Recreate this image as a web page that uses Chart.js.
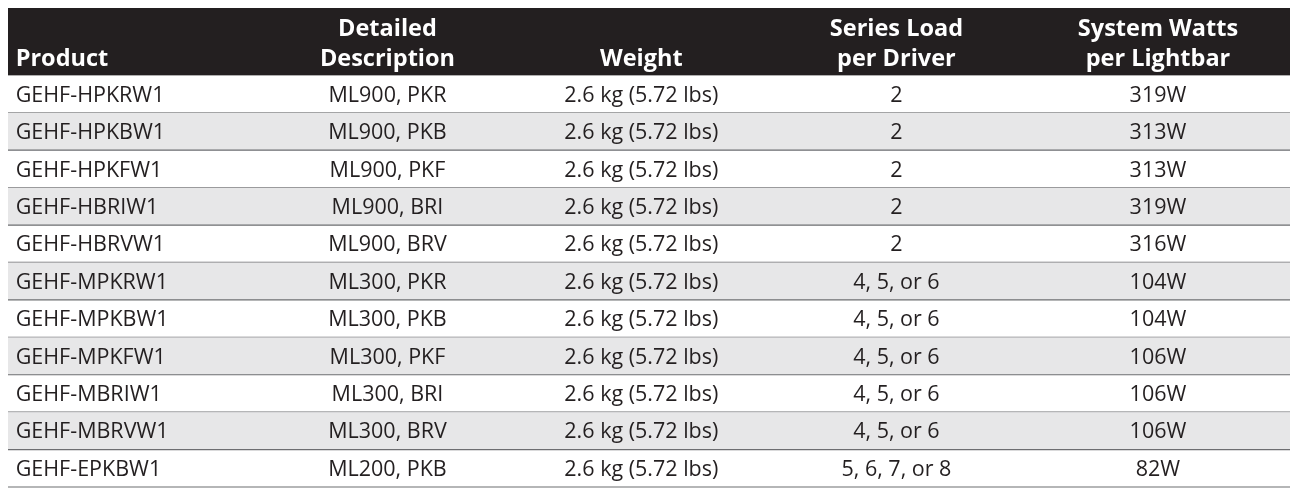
<!DOCTYPE html>
<html><head><meta charset="utf-8">
<script src="https://cdn.jsdelivr.net/npm/chart.js@4/dist/chart.umd.min.js"></script>
<style>html,body{margin:0;background:#fff}#w{width:1296px;height:492px}</style>
</head><body><div id="w"><canvas id="c"></canvas></div>
<script>
const headers = [["Product"],["Detailed","Description"],["Weight"],["Series Load","per Driver"],["System Watts","per Lightbar"]];
const products = ["GEHF-HPKRW1","GEHF-HPKBW1","GEHF-HPKFW1","GEHF-HBRIW1","GEHF-HBRVW1","GEHF-MPKRW1","GEHF-MPKBW1","GEHF-MPKFW1","GEHF-MBRIW1","GEHF-MBRVW1","GEHF-EPKBW1"];
const descriptions = ["ML900, PKR","ML900, PKB","ML900, PKF","ML900, BRI","ML900, BRV","ML300, PKR","ML300, PKB","ML300, PKF","ML300, BRI","ML300, BRV","ML200, PKB"];
const weights = Array(11).fill("2.6 kg (5.72 lbs)");
const seriesLoad = ["2","2","2","2","2","4, 5, or 6","4, 5, or 6","4, 5, or 6","4, 5, or 6","4, 5, or 6","5, 6, 7, or 8"];
const watts = ["319W","313W","313W","319W","316W","104W","104W","106W","106W","106W","82W"];
const colX = [0.006,0.296,0.494,0.693,0.897];
const colAlign = ["left","center","center","center","center"];
const HEADER_H = 1.8;

const tablePlugin = {
  id:'table',
  beforeDatasetsDraw(chart){
    const {ctx, scales:{x,y}} = chart;
    const L = x.getPixelForValue(0), R = x.getPixelForValue(1);
    const cols = [products,descriptions,weights,seriesLoad,watts];
    ctx.save();
    ctx.fillStyle = '#231f20';
    ctx.fillRect(L, y.getPixelForValue(0), R-L, y.getPixelForValue(HEADER_H)-y.getPixelForValue(0));
    ctx.fillStyle = '#fff';
    ctx.font = 'bold 23.5px "Open Sans"';
    ctx.textBaseline = 'middle';
    headers.forEach((h,ci)=>{
      ctx.textAlign = colAlign[ci];
      h.forEach((t,li)=>{
        const yv = h.length===1 ? 1.38 : (li===0?0.58:1.38);
        ctx.fillText(t, x.getPixelForValue(colX[ci]), y.getPixelForValue(yv));
      });
    });
    products.forEach((p,ri)=>{
      const t = y.getPixelForValue(HEADER_H+ri), b = y.getPixelForValue(HEADER_H+ri+1);
      if(ri%2===1){ ctx.fillStyle='#e7e7e8'; ctx.fillRect(L,t,R-L,b-t); }
      ctx.strokeStyle='#6d6e71'; ctx.lineWidth=1.2;
      ctx.beginPath(); ctx.moveTo(L,b); ctx.lineTo(R,b); ctx.stroke();
      ctx.fillStyle='#231f20'; ctx.font='21.5px "Open Sans"';
      cols.forEach((c,ci)=>{
        ctx.textAlign = colAlign[ci];
        ctx.fillText(c[ri], x.getPixelForValue(colX[ci]), (t+b)/2+1.5);
      });
    });
    ctx.restore();
  }
};
new Chart(document.getElementById('c'),{
  type:'scatter',
  data:{datasets:[{data:products.map((p,i)=>({x:0,y:HEADER_H+i+0.5})),pointRadius:0}]},
  options:{responsive:true,maintainAspectRatio:false,animation:false,
    layout:{padding:{left:8,right:6,top:8,bottom:5}},
    plugins:{legend:{display:false},tooltip:{enabled:false}},
    scales:{x:{type:'linear',min:0,max:1,display:false},
            y:{type:'linear',min:0,max:HEADER_H+11,reverse:true,display:false}}},
  plugins:[tablePlugin]
});
</script></body></html>
